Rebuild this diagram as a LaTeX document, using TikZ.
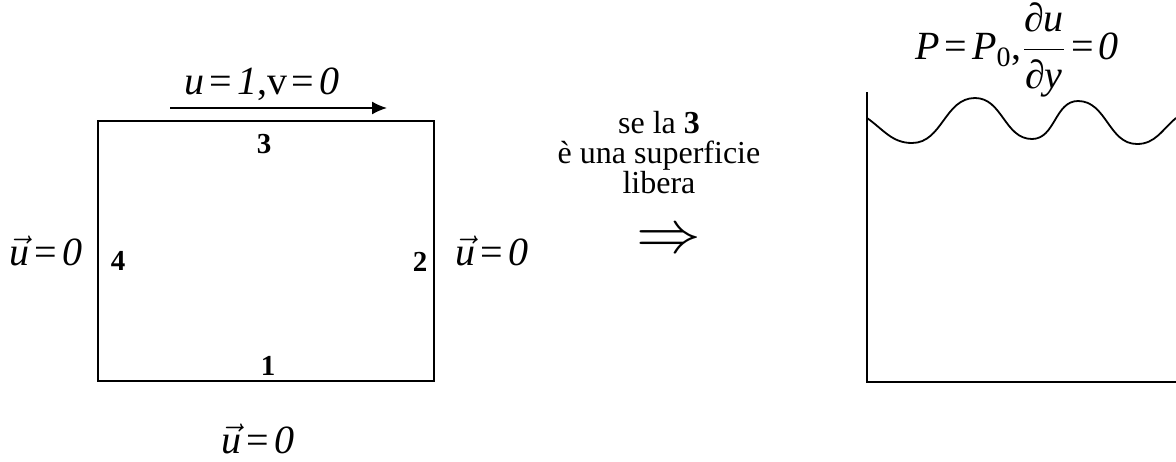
\documentclass[tikz,border=0pt]{standalone}
\usepackage{fontspec}
\setmainfont{Liberation Serif}
\usetikzlibrary{arrows.meta}
\newcommand{\mi}[1]{\textit{#1}}
\newcommand{\vu}{$\vec{\mbox{\mi{u}}}$}
\newcommand{\eq}{\hspace{2.5pt}=\hspace{2.5pt}}

\begin{document}
\begin{tikzpicture}[
    x=0.5pt, y=-0.5pt,
    wall/.style={line width=1pt, line cap=rect},
    cond/.style={font=\fontsize{20}{24}\selectfont, inner sep=0pt},
    side/.style={font=\fontsize{14.5}{16}\selectfont\bfseries, inner sep=0pt},
    note/.style={font=\fontsize{16}{15}\selectfont, align=center, inner sep=0pt},
    arrow/.style={-{Latex[length=7.5pt, width=6.5pt]}, line width=0.8pt}
]
    \useasboundingbox (0,0) rectangle (1176,461);

    % closed cavity
    \coordinate (cavNW) at (98,121);
    \coordinate (cavSE) at (434,381);
    \draw[wall] (cavNW) rectangle (cavSE);
    \coordinate (lidL) at (170,108);
    \coordinate (lidR) at (387,108);
    \draw[arrow] (lidL) -- (lidR);
    \node[cond] (lid) at (262,84) {\mi{u}\eq\mi{1},v\eq\mi{0}};
    \node[side] (s3) at (264,144) {3};
    \node[side] (s4) at (118,261) {4};
    \node[side] (s2) at (420,262) {2};
    \node[side] (s1) at (268,366) {1};
    \node[cond] (left) at (46,251) {\vu\eq\mi{0}};
    \node[cond] (right) at (492,251) {\vu\eq\mi{0}};
    \node[cond] (bottom) at (258,439) {\vu\eq\mi{0}};

    % remark
    \node[note] (remark) at (659,153) {se la \textbf{3}\\è una superficie\\libera};
    \node[inner sep=0pt, font=\fontsize{24.88}{30}\selectfont] (implies) at (669,242) {\scalebox{1.3}[1.2]{$\Rightarrow$}};

    % free surface
    \begin{scope}
        \clip (0,0) rectangle (1176,461);
        \coordinate (tankTop) at (867,93);
        \coordinate (tankSW) at (867,382);
        \coordinate (tankSE) at (1180,382);
        \draw[wall] (tankTop) -- (tankSW) -- (tankSE);
        \draw[line width=0.9pt] (867,118) to[out=-35,in=180] (912,143)
            to[out=0,in=180] (975,98) to[out=0,in=180] (1032,139)
            to[out=0,in=180] (1078,101) to[out=0,in=180] (1137,144)
            to[out=0,in=-140] (1176,118);
    \end{scope}
    \node[cond] (freecond) at (1017,50) {\mi{P}\eq\mi{P}\textsubscript{0},$\displaystyle\frac{\mbox{\mi{∂u}}}{\mbox{\mi{∂y}}}$\eq\mi{0}};
\end{tikzpicture}
\end{document}
